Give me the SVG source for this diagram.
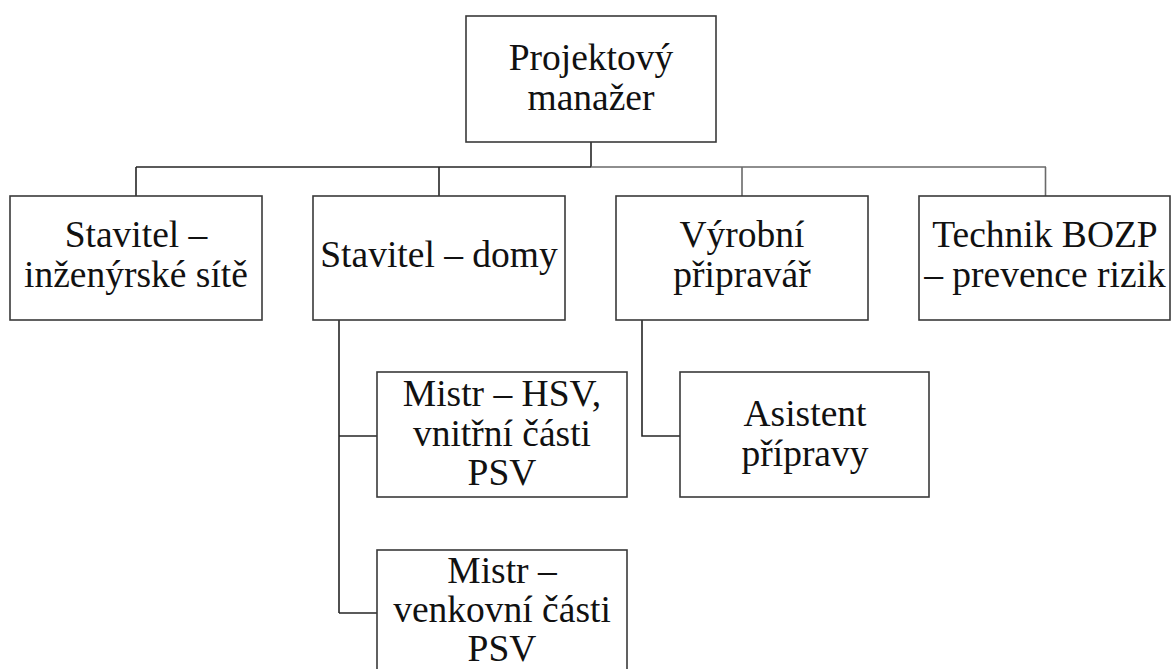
<svg xmlns="http://www.w3.org/2000/svg" width="1172" height="669" viewBox="0 0 1172 669">
  <style>
    .box { fill: #ffffff; stroke: #3a3a3a; stroke-width: 1.6; }
    .lbl { font-size: 37.5px; fill: #111111; text-anchor: middle; }
    .link { fill: none; stroke: #262626; stroke-width: 1.6; }
    .link-light { fill: none; stroke: #6a6a6a; stroke-width: 1.6; }
  </style>
  <rect width="1172" height="669" fill="#ffffff"/>

  <!-- connectors -->
  <g id="connectors">
    <path class="link" d="M591 142 V167 M136 167 H591 M136 167 V196 M439 167 V196"/>
    <path class="link-light" d="M591 167 H1046 M742 167 V196 M1045.5 167 V196"/>
    <path class="link" d="M339 320 V613 M339 436 H377 M339 613 H377"/>
    <path class="link" d="M642 320 V436 H680"/>
  </g>

  <g font-family="Liberation Serif, DejaVu Serif, serif">
  <!-- top level -->
  <g id="projektovy-manazer">
    <rect class="box" x="466" y="16" width="250" height="126"/>
    <text class="lbl" x="591" y="70">Projektový</text>
    <text class="lbl" x="591" y="110">manažer</text>
  </g>

  <!-- second level -->
  <g id="stavitel-site">
    <rect class="box" x="10" y="196" width="252" height="124"/>
    <text class="lbl" x="136" y="247">Stavitel –</text>
    <text class="lbl" x="136" y="287">inženýrské sítě</text>
  </g>
  <g id="stavitel-domy">
    <rect class="box" x="313" y="196" width="252" height="124"/>
    <text class="lbl" x="439" y="267">Stavitel – domy</text>
  </g>
  <g id="vyrobni-pripravar">
    <rect class="box" x="616" y="196" width="252" height="124"/>
    <text class="lbl" x="742" y="247">Výrobní</text>
    <text class="lbl" x="742" y="287">připravář</text>
  </g>
  <g id="technik-bozp">
    <rect class="box" x="919" y="196" width="251" height="124"/>
    <text class="lbl" x="1045" y="247">Technik BOZP</text>
    <text class="lbl" x="1045" y="287">– prevence rizik</text>
  </g>

  <!-- third level -->
  <g id="mistr-hsv">
    <rect class="box" x="377" y="372" width="250" height="125"/>
    <text class="lbl" x="502" y="406">Mistr – HSV,</text>
    <text class="lbl" x="502" y="446">vnitřní části</text>
    <text class="lbl" x="502" y="485">PSV</text>
  </g>
  <g id="mistr-venkovni">
    <rect class="box" x="377" y="550" width="250" height="130"/>
    <text class="lbl" x="502" y="583">Mistr –</text>
    <text class="lbl" x="502" y="622">venkovní části</text>
    <text class="lbl" x="502" y="661">PSV</text>
  </g>
  <g id="asistent-pripravy">
    <rect class="box" x="680" y="372" width="249" height="125"/>
    <text class="lbl" x="805" y="426">Asistent</text>
    <text class="lbl" x="805" y="466">přípravy</text>
  </g>
  </g>
</svg>
